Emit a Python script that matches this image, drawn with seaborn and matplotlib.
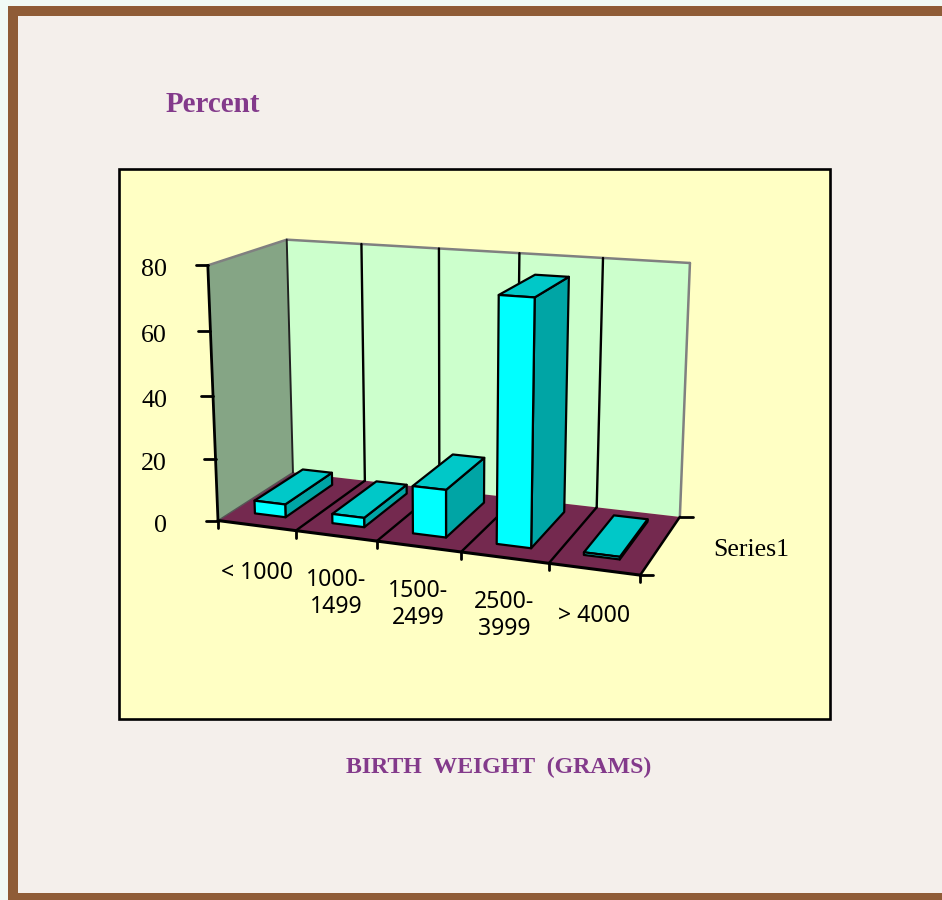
import numpy as np
import matplotlib
matplotlib.use("Agg")
import matplotlib.pyplot as plt
from matplotlib.patches import Rectangle
import seaborn as sns

# ---- data ----
categories = ["< 1000", "1000-\n1499", "1500-\n2499", "2500-\n3999", "> 4000"]
percent = [4.2, 3.0, 15.0, 75.0, 0.8]
z_ticks = [0, 20, 40, 60, 80]
series_name = "Series1"

sns.set_theme(style="white")
plt.rcParams["font.family"] = ["Liberation Serif", "DejaVu Serif"]

W, H = 942, 900
fig = plt.figure(figsize=(W / 100, H / 100), dpi=100, facecolor="#F1FAF6")
ax = fig.add_axes([0, 0, 1, 1])
ax.set_xlim(0, W)
ax.set_ylim(H, 0)
ax.axis("off")

# page
ax.add_patch(Rectangle((8, 6), W, H - 6, fc="#8F5C37", ec="none", zorder=0))
ax.add_patch(Rectangle((18, 16), W, 877, fc="#F4EFEB", ec="none", zorder=0))
ax.add_patch(Rectangle((119, 169), 711, 550, fc="#FFFFC4", ec="black", lw=1.9, zorder=1))

# projective camera fitted to the visible corners of the chart box
n = len(categories)
zmax = z_ticks[-1]
corner_xyz = [(0, 0, 0), (n, 0, 0), (n, 1, 0), (0, 1, 0), (0, 0, zmax), (0, 1, zmax), (n, 1, zmax)]
corner_px = [(218, 521), (640, 575), (680, 517), (293, 472), (208, 265), (286.5, 240), (690, 263)]
A = []
for (X, Y, Z), (u, v) in zip(corner_xyz, corner_px):
    A.append([X, Y, Z, 1, 0, 0, 0, 0, -u * X, -u * Y, -u * Z, -u])
    A.append([0, 0, 0, 0, X, Y, Z, 1, -v * X, -v * Y, -v * Z, -v])
P = np.linalg.svd(np.array(A, float))[2][-1].reshape(3, 4)


def proj(X, Y, Z):
    q = P @ np.array([X, Y, Z, 1.0])
    return q[0] / q[2], q[1] / q[2]


def poly(pts, fc, ec="black", lw=1.6, z=3):
    xy = [proj(*p) for p in pts]
    ax.fill([a for a, _ in xy], [b for _, b in xy], fc=fc, ec=ec, lw=lw, joinstyle="round", zorder=z)


def seg(a, b, color="black", lw=1.6, z=3):
    pa, pb = proj(*a), proj(*b)
    sns.lineplot(x=[pa[0], pb[0]], y=[pa[1], pb[1]], color=color, linewidth=lw, sort=False,
                 estimator=None, ax=ax, zorder=z, legend=False)


# walls and floor
poly([(0, 0, 0), (0, 1, 0), (0, 1, zmax), (0, 0, zmax)], "#85A585", ec="none", z=2)
poly([(0, 1, 0), (n, 1, 0), (n, 1, zmax), (0, 1, zmax)], "#CCFFCC", ec="none", z=2)
poly([(0, 0, 0), (n, 0, 0), (n, 1, 0), (0, 1, 0)], "#74294F", ec="none", z=2)

seg((0, 0, zmax), (0, 1, zmax), "#808080", 1.8)
seg((0, 1, zmax), (n, 1, zmax), "#808080", 1.8)
seg((n, 1, zmax), (n, 1, 0), "#808080", 1.8)
seg((0, 0, 0), (0, 1, 0), "#555555", 1.0)
seg((0, 1, 0), (0, 1, zmax), "#222222", 1.4)
for i in range(1, n):
    seg((i, 1, 0), (i, 1, zmax), "black", 1.7)
    seg((i, 0, 0), (i, 1, 0), "black", 1.7)

# axes
seg((0, 0, 0), (0, 0, zmax), "black", 2.0, z=4)
seg((0, 0, 0), (n, 0, 0), "black", 2.2, z=4)
seg((n, 0, 0), (n, 1, 0), "black", 1.8, z=4)

for t in z_ticks:
    x, y = proj(0, 0, t)
    ax.plot([x - 12, x], [y, y], color="black", lw=2, zorder=4)
    ax.text(167, y + 5, str(t), ha="right", va="center", fontsize=18.7, color="black", zorder=5)

for i in range(n + 1):
    x, y = proj(i, 0, 0)
    ax.plot([x, x], [y, y + 7], color="black", lw=2, zorder=4)
for d in (0, 1):
    x, y = proj(n, d, 0)
    ax.plot([x, x + 13], [y, y], color="black", lw=2, zorder=4)

for i, c in enumerate(categories):
    x, y = proj(i + 0.5, 0, 0)
    off = 58 if "\n" in c else 47
    ax.text(x, y + off, c, ha="center", va="center", fontsize=16.6, family="Noto Sans",
            linespacing=1.16, color="black", zorder=5)

# bars
x0, x1, d0, d1 = 0.285, 0.685, 0.19, 0.85
for i, v in enumerate(percent):
    a, b = i + x0, i + x1
    poly([(b, d0, 0), (b, d1, 0), (b, d1, v), (b, d0, v)], "#00A5A5", z=6 + i)
    poly([(a, d0, v), (b, d0, v), (b, d1, v), (a, d1, v)], "#00C8C8", z=6 + i)
    poly([(a, d0, 0), (b, d0, 0), (b, d0, v), (a, d0, v)], "#00FFFF", z=6 + i)

# titles
ax.text(751, 550, series_name, ha="center", va="center", fontsize=18.6, color="black")
ax.text(166, 105, "Percent", ha="left", va="center", fontsize=20.9, fontweight="bold", color="#833A8B")
ax.text(498.5, 767, "BIRTH  WEIGHT  (GRAMS)", ha="center", va="center", fontsize=17.2,
        fontweight="bold", color="#833A8B")

fig.savefig("out.png", dpi=100, facecolor=fig.get_facecolor())
